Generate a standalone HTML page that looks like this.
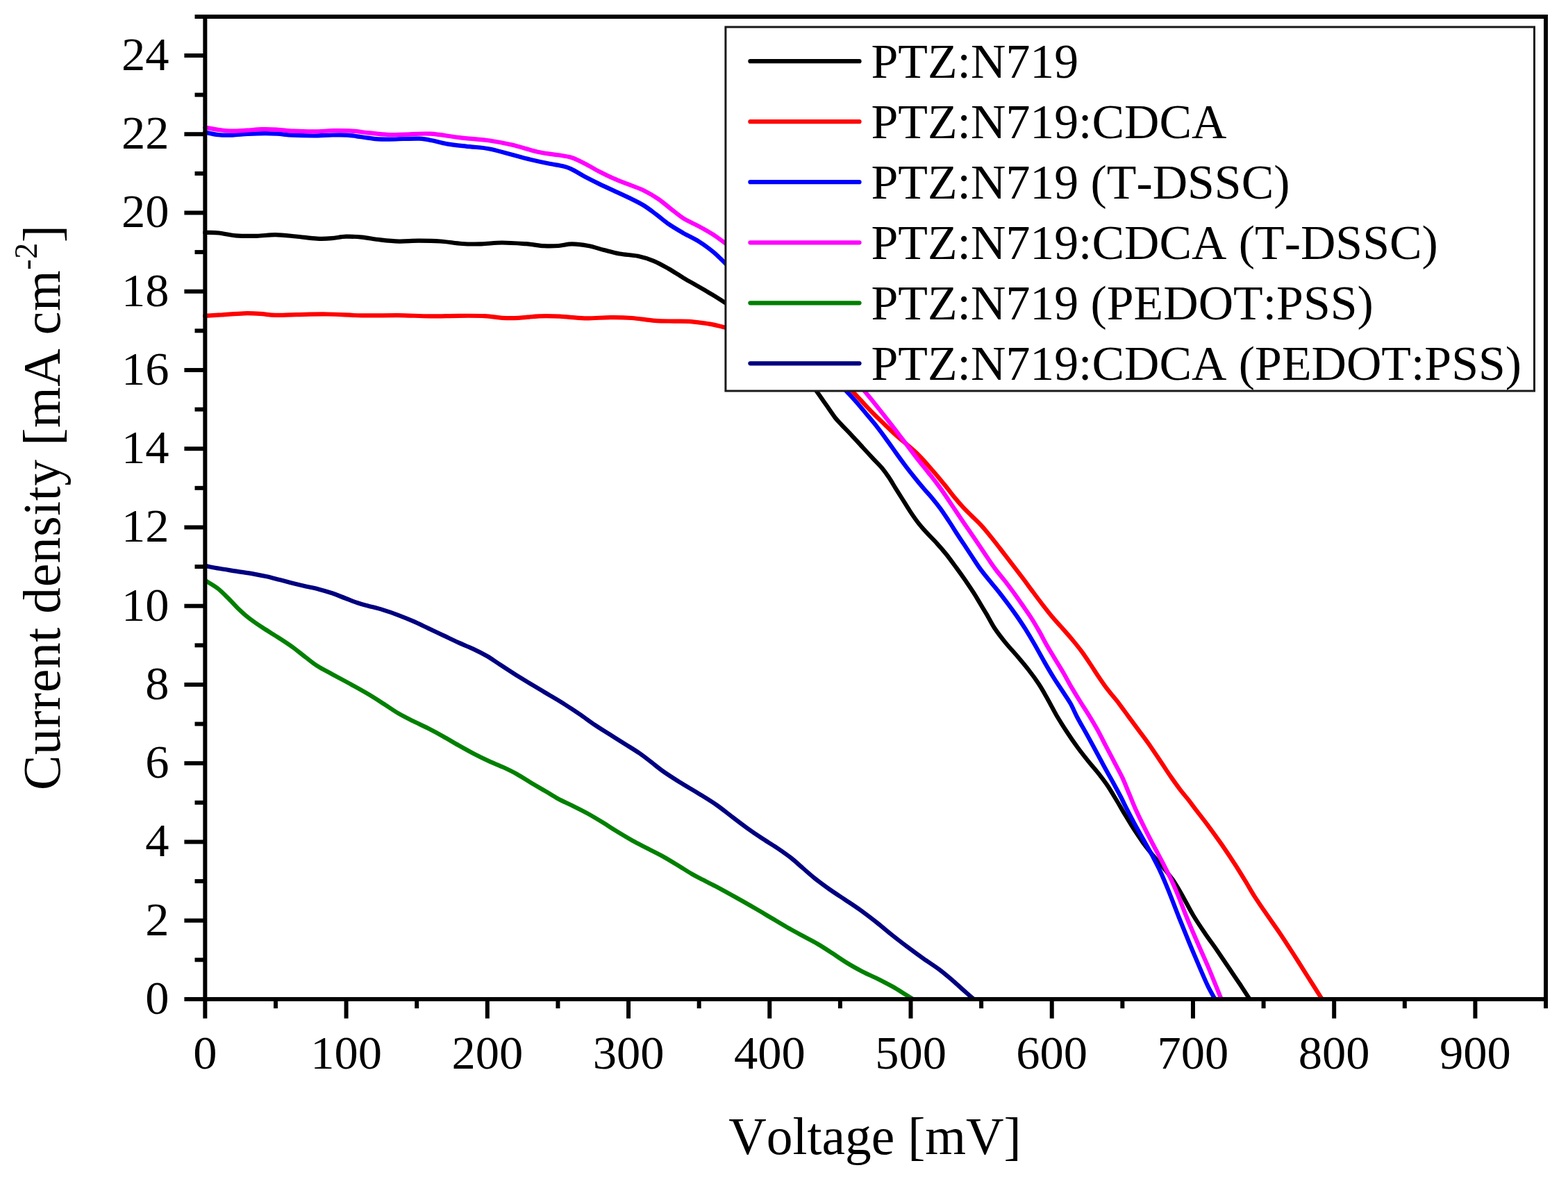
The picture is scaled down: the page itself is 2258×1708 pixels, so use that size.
<!DOCTYPE html>
<html><head><meta charset="utf-8"><style>
html,body{margin:0;padding:0;background:#fff;}
svg{display:block;}
text{font-family:"Liberation Serif","Times New Roman",serif;fill:#000;font-kerning:none;font-feature-settings:"kern" 0;}
.t{font-size:68.5px;}
.l{font-size:75.5px;}
.g{font-size:69.8px;}
</style></head><body>
<svg width="2258" height="1708" viewBox="0 0 2258 1708">
<rect width="2258" height="1708" fill="#fff"/>
<path d="M295.2,335.0 C295.9,335.0 296.3,334.8 299.7,334.9 C303.0,335.0 308.8,334.8 315.4,335.5 C322.0,336.3 330.4,338.6 339.4,339.3 C348.5,340.0 360.1,340.0 369.7,339.8 C379.2,339.6 387.3,338.1 396.8,338.2 C406.2,338.3 416.4,339.6 426.3,340.5 C436.3,341.4 448.0,343.2 456.6,343.6 C465.1,344.1 470.8,343.7 477.7,343.2 C484.6,342.7 490.7,340.9 498.0,340.7 C505.3,340.4 513.0,340.9 521.3,341.7 C529.6,342.5 538.8,344.5 547.7,345.4 C556.6,346.4 565.6,347.4 574.8,347.6 C583.9,347.8 592.8,346.7 602.7,346.7 C612.6,346.7 623.8,346.8 634.3,347.5 C644.8,348.2 655.8,350.4 665.6,351.0 C675.4,351.7 683.6,351.6 693.2,351.4 C702.8,351.1 712.3,349.5 723.0,349.5 C733.7,349.5 747.3,350.5 757.4,351.2 C767.5,352.0 775.7,353.7 783.5,354.2 C791.3,354.7 797.6,354.5 804.3,354.0 C811.0,353.5 816.6,351.4 823.7,351.4 C830.9,351.5 839.6,352.6 847.2,354.0 C854.9,355.4 862.1,358.1 869.6,360.0 C877.1,361.9 884.2,364.0 892.4,365.5 C900.5,367.0 910.4,367.1 918.5,368.8 C926.7,370.6 933.9,372.7 941.3,375.8 C948.7,378.8 955.6,382.9 962.8,387.0 C970.0,391.1 977.1,396.0 984.3,400.3 C991.5,404.6 998.8,408.5 1005.8,412.6 C1012.8,416.6 1020.2,421.0 1026.3,424.7 C1032.3,428.4 1037.6,431.8 1042.1,434.6 C1046.6,437.5 1051.4,440.6 1053.2,441.8 M1170.5,555.6 C1171.8,557.5 1175.2,562.2 1178.5,567.0 C1181.8,571.7 1186.4,578.3 1190.4,584.1 C1194.4,589.8 1198.9,596.7 1202.6,601.5 C1206.4,606.3 1209.0,608.7 1212.9,612.9 C1216.8,617.0 1221.0,621.1 1225.9,626.3 C1230.8,631.5 1236.9,638.4 1242.1,644.0 C1247.3,649.7 1252.6,655.4 1257.2,660.3 C1261.9,665.3 1266.1,669.3 1269.9,673.7 C1273.6,678.2 1276.4,682.2 1279.7,687.1 C1283.0,691.9 1286.4,697.9 1289.5,702.9 C1292.7,707.9 1295.0,711.4 1298.4,717.0 C1301.9,722.5 1306.3,729.9 1310.4,736.1 C1314.5,742.3 1318.9,748.7 1323.0,753.9 C1327.1,759.2 1330.7,763.0 1335.0,767.7 C1339.3,772.4 1344.4,777.2 1349.0,782.3 C1353.7,787.4 1358.2,792.6 1362.9,798.5 C1367.6,804.4 1372.6,811.4 1377.2,817.7 C1381.8,824.0 1386.3,830.3 1390.5,836.3 C1394.6,842.3 1398.6,848.1 1402.1,853.7 C1405.6,859.2 1408.5,864.3 1411.6,869.4 C1414.7,874.6 1417.4,878.8 1420.8,884.6 C1424.2,890.4 1427.6,897.6 1432.0,904.3 C1436.4,911.0 1441.6,917.7 1447.2,924.6 C1452.8,931.5 1459.6,938.7 1465.4,945.5 C1471.2,952.3 1476.8,958.9 1481.8,965.5 C1486.9,972.0 1491.4,978.2 1495.7,984.8 C1500.1,991.4 1503.5,997.6 1507.8,1005.2 C1512.2,1012.9 1516.9,1022.4 1521.6,1030.5 C1526.4,1038.6 1531.2,1046.1 1536.2,1053.8 C1541.2,1061.5 1546.7,1069.4 1551.9,1076.5 C1557.1,1083.6 1562.3,1090.1 1567.3,1096.4 C1572.3,1102.7 1577.4,1108.1 1582.1,1114.2 C1586.8,1120.2 1591.3,1126.0 1595.8,1132.8 C1600.2,1139.5 1605.0,1147.8 1609.1,1154.5 C1613.2,1161.3 1616.3,1167.0 1620.2,1173.3 C1624.0,1179.7 1627.9,1186.3 1632.1,1192.9 C1636.4,1199.5 1641.1,1206.6 1645.7,1213.1 C1650.3,1219.5 1655.1,1225.4 1660.0,1231.5 C1664.9,1237.6 1670.4,1243.5 1675.2,1249.4 C1680.0,1255.3 1684.4,1260.7 1688.8,1266.9 C1693.1,1273.2 1696.2,1278.5 1701.1,1287.0 C1706.0,1295.5 1712.5,1308.5 1718.2,1318.0 C1723.9,1327.5 1729.6,1335.8 1735.3,1344.2 C1741.0,1352.6 1746.8,1360.2 1752.5,1368.5 C1758.2,1376.8 1764.1,1385.6 1769.6,1393.8 C1775.1,1401.9 1780.6,1409.9 1785.5,1417.3 C1790.4,1424.7 1796.8,1434.6 1799.1,1438.1 " fill="none" stroke="#000000" stroke-width="6.2" stroke-linejoin="round" stroke-linecap="round"/>
<path d="M295.1,454.8 C299.0,454.6 309.4,454.0 318.8,453.5 C328.1,452.9 341.7,451.5 351.1,451.3 C360.4,451.0 367.2,451.4 374.8,451.9 C382.3,452.3 387.7,453.7 396.3,453.9 C404.9,454.1 413.8,453.3 426.5,453.1 C439.1,452.9 456.5,452.2 472.2,452.5 C487.9,452.7 503.9,454.1 520.7,454.4 C537.5,454.7 556.5,454.0 573.0,454.1 C589.4,454.3 604.9,455.3 619.4,455.4 C634.0,455.5 647.3,454.8 660.4,454.8 C673.5,454.7 687.5,454.6 698.0,455.1 C708.5,455.6 715.1,457.3 723.3,457.8 C731.5,458.2 738.1,458.2 746.9,457.8 C755.8,457.4 766.7,455.7 776.5,455.4 C786.4,455.0 795.4,455.2 806.3,455.7 C817.2,456.2 829.6,458.2 841.8,458.4 C854.0,458.7 868.1,457.1 879.5,457.1 C890.8,457.0 899.3,457.2 910.0,458.0 C920.6,458.8 933.3,461.1 943.4,461.8 C953.5,462.6 962.1,462.4 970.7,462.6 C979.3,462.8 986.8,462.5 995.2,463.1 C1003.5,463.8 1013.0,465.1 1020.7,466.4 C1028.4,467.7 1035.9,469.7 1041.6,471.0 C1047.3,472.4 1052.8,473.8 1055.0,474.4 M1221.2,556.6 C1222.8,558.3 1226.8,562.6 1230.7,566.8 C1234.5,570.9 1239.6,576.4 1244.2,581.3 C1248.8,586.2 1253.2,591.0 1258.2,596.0 C1263.1,601.0 1268.6,606.1 1273.9,611.2 C1279.2,616.3 1284.8,621.8 1290.2,626.7 C1295.6,631.6 1301.1,635.9 1306.5,640.6 C1311.9,645.3 1317.3,649.8 1322.5,655.0 C1327.8,660.2 1332.9,666.1 1337.9,671.7 C1342.9,677.4 1348.2,683.5 1352.7,688.9 C1357.2,694.3 1361.4,699.7 1365.1,704.2 C1368.7,708.7 1370.8,711.7 1374.3,716.0 C1377.9,720.3 1382.1,725.3 1386.3,729.8 C1390.5,734.3 1394.9,738.6 1399.3,743.0 C1403.7,747.4 1408.0,751.1 1412.6,756.1 C1417.2,761.1 1422.0,767.0 1426.9,773.1 C1431.8,779.1 1437.3,786.2 1442.1,792.5 C1447.0,798.8 1451.4,804.6 1456.2,810.9 C1461.0,817.2 1466.0,823.6 1471.0,830.2 C1476.0,836.8 1481.1,843.8 1486.0,850.4 C1490.9,857.0 1495.7,863.5 1500.6,869.8 C1505.5,876.1 1510.2,882.3 1515.2,888.2 C1520.2,894.2 1525.7,900.0 1530.6,905.6 C1535.6,911.2 1540.4,916.6 1544.9,922.1 C1549.4,927.6 1553.7,932.8 1557.8,938.4 C1561.9,944.0 1565.5,949.4 1569.6,955.6 C1573.7,961.7 1578.4,969.2 1582.5,975.3 C1586.7,981.4 1590.2,986.6 1594.4,992.2 C1598.6,997.8 1602.8,1002.2 1607.9,1008.7 C1612.9,1015.1 1619.0,1023.6 1624.5,1031.1 C1630.0,1038.6 1635.6,1046.0 1641.0,1053.4 C1646.5,1060.8 1652.0,1068.1 1657.3,1075.7 C1662.6,1083.3 1668.1,1091.8 1673.0,1099.1 C1677.9,1106.4 1682.1,1113.0 1686.6,1119.4 C1691.1,1125.8 1695.5,1132.0 1699.8,1137.6 C1704.1,1143.2 1708.5,1148.2 1712.2,1152.9 C1715.8,1157.6 1717.4,1159.9 1721.9,1165.8 C1726.4,1171.7 1733.0,1179.9 1739.2,1188.3 C1745.4,1196.6 1752.6,1206.6 1759.1,1215.9 C1765.6,1225.3 1772.4,1235.5 1778.1,1244.3 C1783.8,1253.1 1788.6,1261.0 1793.3,1268.7 C1798.0,1276.4 1801.5,1282.9 1806.4,1290.6 C1811.4,1298.3 1816.7,1306.1 1822.9,1315.1 C1829.0,1324.0 1836.5,1334.3 1843.2,1344.2 C1849.9,1354.1 1856.4,1364.3 1862.9,1374.4 C1869.4,1384.5 1875.4,1394.2 1882.2,1404.8 C1888.9,1415.4 1899.8,1432.5 1903.3,1438.1 " fill="none" stroke="#ff0000" stroke-width="6.2" stroke-linejoin="round" stroke-linecap="round"/>
<path d="M295.4,190.6 C298.6,191.2 308.1,193.5 314.7,194.2 C321.2,194.9 327.8,194.8 334.8,194.6 C341.8,194.4 348.9,193.3 356.8,192.9 C364.7,192.5 374.8,192.1 382.0,192.1 C389.1,192.1 393.2,192.3 399.7,192.7 C406.3,193.1 412.6,194.2 421.3,194.7 C429.9,195.2 442.0,195.5 451.6,195.5 C461.1,195.5 470.6,194.6 478.7,194.5 C486.8,194.3 493.2,194.2 500.2,194.6 C507.2,195.1 513.8,196.4 520.6,197.3 C527.4,198.2 534.2,199.5 540.9,200.1 C547.7,200.6 554.3,200.6 561.0,200.6 C567.7,200.6 574.1,200.2 581.3,200.0 C588.5,199.9 597.3,199.4 604.1,199.7 C610.8,200.1 615.3,201.0 622.0,202.3 C628.7,203.6 635.2,205.9 644.3,207.4 C653.3,208.9 666.0,210.0 676.3,211.2 C686.7,212.4 693.4,212.0 706.4,214.8 C719.4,217.5 740.3,224.0 754.5,227.5 C768.6,231.0 782.7,234.0 791.4,235.8 C800.1,237.6 801.5,237.2 806.7,238.5 C811.8,239.7 816.7,240.7 822.5,243.3 C828.3,245.9 834.7,250.4 841.4,254.0 C848.1,257.5 855.3,261.1 862.4,264.6 C869.5,268.0 876.7,271.3 883.9,274.6 C891.1,277.9 898.3,281.1 905.4,284.6 C912.5,288.1 919.7,291.4 926.4,295.5 C933.1,299.5 939.1,304.4 945.3,309.0 C951.5,313.6 957.1,318.7 963.6,323.1 C970.1,327.6 977.3,331.7 984.3,335.8 C991.3,339.8 998.8,343.0 1005.8,347.3 C1012.8,351.7 1020.3,357.2 1026.3,362.1 C1032.3,367.0 1037.6,372.5 1041.8,376.6 C1046.0,380.6 1050.0,384.8 1051.6,386.4 M1212.6,556.6 C1214.2,558.3 1218.2,562.6 1222.1,566.8 C1225.9,570.9 1231.1,576.5 1235.6,581.7 C1240.1,586.9 1244.6,592.5 1249.2,598.0 C1253.8,603.5 1258.5,608.9 1263.1,614.8 C1267.7,620.7 1272.5,627.3 1277.0,633.6 C1281.6,639.8 1285.9,646.1 1290.4,652.4 C1294.9,658.7 1299.6,665.2 1304.1,671.1 C1308.6,677.1 1313.1,682.7 1317.5,688.2 C1321.9,693.7 1326.6,699.3 1330.6,704.0 C1334.5,708.7 1337.6,711.6 1341.4,716.2 C1345.3,720.9 1349.6,726.2 1353.8,731.9 C1358.0,737.6 1362.4,744.4 1366.4,750.4 C1370.4,756.4 1373.9,762.3 1377.6,768.0 C1381.3,773.7 1384.9,778.9 1388.5,784.4 C1392.1,789.9 1395.6,795.3 1399.3,800.9 C1403.0,806.5 1406.6,812.3 1410.6,817.9 C1414.6,823.5 1418.9,828.8 1423.4,834.3 C1427.9,839.9 1432.7,845.3 1437.4,851.2 C1442.0,857.0 1446.9,863.5 1451.3,869.4 C1455.8,875.4 1459.7,880.8 1464.0,886.9 C1468.2,893.0 1472.5,899.3 1476.8,906.2 C1481.1,913.1 1485.5,920.5 1490.0,928.3 C1494.5,936.1 1499.3,945.1 1503.9,953.1 C1508.5,961.2 1513.3,969.4 1517.8,976.6 C1522.3,983.8 1526.7,990.1 1530.7,996.3 C1534.7,1002.4 1538.4,1007.5 1541.8,1013.5 C1545.1,1019.5 1547.4,1025.5 1550.9,1032.2 C1554.4,1039.0 1558.7,1046.3 1562.9,1053.8 C1567.1,1061.3 1571.5,1069.4 1575.9,1077.5 C1580.3,1085.6 1584.7,1094.0 1589.2,1102.2 C1593.6,1110.4 1598.6,1119.1 1602.7,1126.6 C1606.8,1134.1 1610.6,1141.0 1613.7,1147.0 C1616.8,1152.9 1618.1,1156.2 1621.3,1162.4 C1624.5,1168.6 1628.7,1176.8 1632.8,1184.4 C1636.9,1192.0 1641.5,1200.0 1645.9,1208.0 C1650.3,1215.9 1655.0,1224.2 1659.3,1232.1 C1663.5,1240.1 1667.3,1247.1 1671.2,1255.6 C1675.1,1264.0 1678.3,1271.8 1682.7,1282.7 C1687.1,1293.6 1692.8,1308.5 1697.7,1321.0 C1702.7,1333.4 1707.6,1345.6 1712.5,1357.5 C1717.4,1369.3 1722.6,1381.6 1727.1,1392.1 C1731.6,1402.7 1736.0,1413.0 1739.7,1420.7 C1743.4,1428.3 1747.6,1435.2 1749.2,1438.1 " fill="none" stroke="#0000ff" stroke-width="6.2" stroke-linejoin="round" stroke-linecap="round"/>
<path d="M295.4,183.8 C298.3,184.3 306.3,185.7 312.7,186.6 C319.0,187.4 326.3,188.5 333.4,188.7 C340.5,188.8 347.9,188.1 355.1,187.7 C362.3,187.3 369.6,186.4 376.8,186.2 C384.0,186.0 390.9,186.2 398.5,186.6 C406.1,187.0 413.3,188.2 422.1,188.7 C431.0,189.1 442.1,189.5 451.7,189.4 C461.4,189.4 470.8,188.4 479.9,188.2 C489.0,188.1 497.7,188.1 506.3,188.6 C514.9,189.1 522.7,190.5 531.5,191.4 C540.3,192.3 550.3,193.6 559.0,194.0 C567.7,194.4 573.6,193.9 583.7,193.7 C593.7,193.4 606.4,191.9 619.5,192.7 C632.5,193.4 647.6,196.5 661.9,198.1 C676.1,199.8 692.6,200.8 705.1,202.5 C717.6,204.3 725.0,205.8 737.0,208.6 C749.0,211.4 765.8,216.9 777.0,219.3 C788.2,221.7 796.3,222.0 803.9,223.3 C811.5,224.5 816.2,224.9 822.5,226.8 C828.7,228.8 834.7,231.8 841.4,235.2 C848.1,238.5 855.3,243.1 862.4,246.8 C869.5,250.5 876.7,254.0 883.9,257.1 C891.1,260.3 898.2,262.9 905.4,265.7 C912.6,268.6 919.9,270.8 926.9,274.2 C934.0,277.7 941.2,281.9 947.7,286.4 C954.2,290.8 959.8,295.9 966.0,300.7 C972.1,305.4 978.2,310.8 984.8,314.9 C991.5,319.1 998.9,321.8 1005.8,325.6 C1012.7,329.3 1020.2,333.6 1026.3,337.4 C1032.3,341.3 1037.6,345.3 1042.0,348.4 C1046.4,351.5 1051.0,355.0 1052.8,356.3 M1239.1,556.2 C1240.5,557.8 1244.3,562.3 1247.4,566.1 C1250.4,569.8 1254.0,574.1 1257.6,578.6 C1261.2,583.1 1264.9,587.8 1268.9,592.9 C1272.9,598.0 1277.2,603.5 1281.7,609.2 C1286.2,614.9 1291.0,621.2 1295.6,627.3 C1300.2,633.3 1305.0,639.6 1309.5,645.5 C1314.0,651.5 1318.3,657.2 1322.7,662.9 C1327.1,668.5 1331.5,673.9 1336.0,679.5 C1340.5,685.2 1345.2,690.9 1349.6,696.9 C1354.1,702.8 1358.3,708.9 1362.6,715.2 C1366.9,721.5 1371.2,728.2 1375.5,734.5 C1379.8,740.9 1384.1,747.5 1388.1,753.3 C1392.1,759.1 1395.6,764.0 1399.3,769.4 C1403.1,774.9 1406.7,780.2 1410.6,786.1 C1414.5,791.9 1418.8,798.5 1422.8,804.4 C1426.9,810.3 1430.6,815.9 1434.9,821.5 C1439.2,827.1 1444.3,832.9 1448.5,838.3 C1452.7,843.7 1456.3,848.7 1460.2,854.1 C1464.1,859.4 1467.7,864.7 1471.7,870.4 C1475.7,876.2 1480.1,882.3 1484.2,888.6 C1488.3,894.9 1492.3,901.7 1496.1,908.4 C1500.0,915.1 1503.5,922.4 1507.2,928.9 C1510.9,935.4 1514.5,941.1 1518.4,947.6 C1522.3,954.1 1526.7,960.9 1530.8,968.0 C1534.9,975.0 1539.0,982.9 1543.1,989.9 C1547.2,996.9 1551.3,1003.6 1555.4,1010.1 C1559.4,1016.6 1563.4,1022.4 1567.5,1029.1 C1571.6,1035.8 1575.9,1042.9 1579.9,1050.1 C1583.9,1057.3 1587.5,1064.6 1591.5,1072.4 C1595.6,1080.1 1600.0,1088.6 1604.2,1096.6 C1608.3,1104.6 1612.8,1112.6 1616.4,1120.2 C1619.9,1127.8 1622.5,1134.7 1625.7,1142.3 C1628.9,1149.8 1631.7,1157.4 1635.4,1165.6 C1639.1,1173.8 1643.6,1183.0 1647.9,1191.7 C1652.2,1200.5 1657.0,1209.7 1661.4,1218.0 C1665.8,1226.4 1670.2,1234.4 1674.2,1242.1 C1678.1,1249.7 1681.6,1256.3 1685.1,1263.8 C1688.7,1271.2 1691.4,1277.2 1695.4,1286.9 C1699.5,1296.5 1704.3,1309.9 1709.2,1321.7 C1714.0,1333.5 1719.3,1345.7 1724.4,1357.5 C1729.5,1369.2 1735.2,1381.6 1739.7,1392.1 C1744.2,1402.7 1748.3,1413.0 1751.4,1420.7 C1754.5,1428.3 1757.2,1435.2 1758.4,1438.1 " fill="none" stroke="#ff00ff" stroke-width="6.2" stroke-linejoin="round" stroke-linecap="round"/>
<path d="M296.3,836.4 C299.1,838.2 307.9,843.0 313.2,847.1 C318.4,851.1 323.0,855.9 327.9,860.7 C332.8,865.5 337.5,871.1 342.5,875.9 C347.5,880.7 351.9,884.9 357.9,889.6 C363.9,894.3 371.2,899.3 378.6,904.2 C385.9,909.0 394.7,914.1 401.9,918.8 C409.1,923.4 415.5,927.6 421.8,932.2 C428.1,936.9 434.1,941.9 439.9,946.4 C445.8,950.9 450.6,955.1 457.1,959.2 C463.5,963.3 471.0,966.9 478.8,971.2 C486.5,975.4 495.3,980.0 503.7,984.6 C512.1,989.2 521.1,994.1 529.1,998.9 C537.1,1003.6 544.3,1008.3 551.7,1013.1 C559.1,1017.8 566.2,1022.9 573.4,1027.2 C580.6,1031.5 587.9,1035.0 595.1,1038.6 C602.3,1042.2 609.6,1045.3 616.8,1049.0 C624.0,1052.7 631.3,1056.6 638.5,1060.7 C645.7,1064.8 653.0,1069.2 660.2,1073.3 C667.4,1077.4 674.7,1081.5 681.9,1085.3 C689.1,1089.1 696.5,1092.7 703.6,1095.9 C710.7,1099.2 717.6,1101.7 724.3,1104.8 C731.0,1107.9 736.5,1110.5 743.8,1114.5 C751.0,1118.6 760.7,1124.9 767.8,1129.1 C774.9,1133.3 780.3,1136.4 786.3,1139.9 C792.2,1143.4 797.2,1146.8 803.5,1150.2 C809.8,1153.6 817.1,1156.8 824.2,1160.3 C831.3,1163.8 838.7,1167.4 845.9,1171.4 C853.1,1175.4 860.4,1179.8 867.6,1184.2 C874.8,1188.6 882.1,1193.5 889.3,1197.9 C896.5,1202.3 903.8,1206.7 911.0,1210.7 C918.2,1214.7 925.5,1218.2 932.7,1222.0 C939.9,1225.7 947.2,1229.2 954.4,1233.2 C961.6,1237.2 969.2,1241.9 976.1,1246.1 C983.0,1250.3 990.2,1255.1 996.1,1258.5 C1002.0,1262.0 1005.6,1263.7 1011.7,1266.8 C1017.8,1270.0 1024.7,1273.3 1032.7,1277.5 C1040.6,1281.8 1050.3,1287.1 1059.5,1292.3 C1068.8,1297.5 1079.6,1303.6 1088.3,1308.7 C1097.0,1313.7 1104.2,1318.1 1111.7,1322.5 C1119.2,1327.0 1126.2,1331.3 1133.4,1335.4 C1140.6,1339.5 1147.9,1343.4 1155.1,1347.3 C1162.3,1351.3 1169.6,1354.7 1176.8,1359.0 C1184.0,1363.2 1191.3,1368.0 1198.5,1372.7 C1205.7,1377.4 1213.0,1382.6 1220.2,1387.0 C1227.4,1391.5 1234.7,1395.4 1241.9,1399.2 C1249.1,1402.9 1256.4,1405.9 1263.6,1409.5 C1270.8,1413.1 1278.5,1417.0 1285.3,1420.8 C1292.1,1424.6 1299.6,1429.6 1304.2,1432.4 C1308.9,1435.3 1311.9,1437.2 1313.4,1438.1 " fill="none" stroke="#008000" stroke-width="6.2" stroke-linejoin="round" stroke-linecap="round"/>
<path d="M296.3,815.1 C299.6,815.7 308.9,817.6 316.2,818.8 C323.6,820.1 332.2,821.3 340.2,822.6 C348.2,823.9 356.8,825.1 364.2,826.4 C371.5,827.7 377.6,828.9 384.1,830.3 C390.6,831.8 396.7,833.5 403.0,835.1 C409.3,836.7 415.5,838.5 421.8,840.1 C428.1,841.6 434.3,843.0 440.6,844.5 C446.9,845.9 453.1,847.0 459.4,848.7 C465.7,850.3 472.0,852.2 478.3,854.3 C484.6,856.5 491.0,859.2 497.1,861.5 C503.2,863.8 509.3,866.4 515.1,868.3 C520.8,870.2 525.3,871.2 531.4,872.9 C537.5,874.5 544.7,876.2 551.7,878.4 C558.7,880.5 566.2,883.1 573.4,885.8 C580.6,888.5 587.9,891.5 595.1,894.7 C602.3,897.9 609.6,901.5 616.8,904.9 C624.0,908.3 631.3,911.7 638.5,915.1 C645.7,918.5 653.0,922.1 660.2,925.4 C667.4,928.6 674.7,931.4 681.5,934.6 C688.3,937.8 694.7,941.0 701.2,944.8 C707.7,948.6 713.5,952.9 720.5,957.4 C727.4,961.9 734.8,966.8 742.8,971.9 C750.9,976.9 760.6,982.8 768.8,987.7 C776.9,992.6 784.3,996.9 791.7,1001.3 C799.1,1005.8 806.2,1009.9 813.4,1014.5 C820.6,1019.1 827.9,1023.9 835.1,1028.8 C842.3,1033.7 849.6,1039.3 856.8,1044.1 C864.0,1049.0 871.3,1053.3 878.5,1057.9 C885.7,1062.5 893.1,1067.1 900.2,1071.6 C907.3,1076.1 914.6,1080.4 920.9,1084.8 C927.3,1089.2 932.4,1093.4 938.2,1097.8 C943.9,1102.2 948.7,1106.4 955.4,1111.1 C962.1,1115.8 969.6,1120.6 978.3,1126.1 C987.0,1131.5 998.9,1138.3 1007.8,1143.8 C1016.7,1149.3 1024.1,1153.8 1031.7,1159.1 C1039.3,1164.4 1046.2,1170.1 1053.4,1175.6 C1060.6,1181.1 1067.9,1186.7 1075.1,1191.9 C1082.3,1197.1 1089.6,1202.1 1096.8,1206.9 C1104.0,1211.7 1111.4,1215.9 1118.5,1220.7 C1125.6,1225.5 1132.9,1230.5 1139.2,1235.5 C1145.6,1240.5 1150.7,1245.6 1156.5,1250.5 C1162.2,1255.4 1167.4,1260.2 1173.7,1265.2 C1180.0,1270.2 1187.3,1275.6 1194.4,1280.6 C1201.5,1285.6 1208.7,1290.2 1216.1,1295.1 C1223.5,1300.1 1230.7,1304.7 1238.5,1310.3 C1246.3,1315.9 1255.1,1322.7 1262.9,1328.8 C1270.7,1335.0 1277.9,1341.3 1285.3,1347.1 C1292.7,1353.0 1299.8,1358.4 1307.2,1364.0 C1314.7,1369.6 1322.5,1375.3 1330.1,1380.7 C1337.8,1386.1 1345.9,1391.2 1353.0,1396.5 C1360.1,1401.8 1366.6,1407.6 1372.5,1412.6 C1378.4,1417.7 1383.4,1422.4 1388.2,1426.6 C1393.0,1430.9 1399.0,1436.2 1401.2,1438.1 " fill="none" stroke="#000080" stroke-width="6.2" stroke-linejoin="round" stroke-linecap="round"/>
<rect x="295.35" y="24.00" width="1930.69" height="1414.94" fill="none" stroke="#000" stroke-width="6.0"/>
<line x1="265.4" y1="1438.94" x2="295.4" y2="1438.94" stroke="#000" stroke-width="6.0"/>
<text x="243.6" y="1459.8" text-anchor="end" class="t">0</text>
<line x1="280.5" y1="1382.32" x2="295.4" y2="1382.32" stroke="#000" stroke-width="6.0"/>
<line x1="265.4" y1="1325.69" x2="295.4" y2="1325.69" stroke="#000" stroke-width="6.0"/>
<text x="243.6" y="1346.6" text-anchor="end" class="t">2</text>
<line x1="280.5" y1="1269.07" x2="295.4" y2="1269.07" stroke="#000" stroke-width="6.0"/>
<line x1="265.4" y1="1212.44" x2="295.4" y2="1212.44" stroke="#000" stroke-width="6.0"/>
<text x="243.6" y="1233.3" text-anchor="end" class="t">4</text>
<line x1="280.5" y1="1155.82" x2="295.4" y2="1155.82" stroke="#000" stroke-width="6.0"/>
<line x1="265.4" y1="1099.20" x2="295.4" y2="1099.20" stroke="#000" stroke-width="6.0"/>
<text x="243.6" y="1120.1" text-anchor="end" class="t">6</text>
<line x1="280.5" y1="1042.57" x2="295.4" y2="1042.57" stroke="#000" stroke-width="6.0"/>
<line x1="265.4" y1="985.95" x2="295.4" y2="985.95" stroke="#000" stroke-width="6.0"/>
<text x="243.6" y="1006.8" text-anchor="end" class="t">8</text>
<line x1="280.5" y1="929.32" x2="295.4" y2="929.32" stroke="#000" stroke-width="6.0"/>
<line x1="265.4" y1="872.70" x2="295.4" y2="872.70" stroke="#000" stroke-width="6.0"/>
<text x="243.6" y="893.6" text-anchor="end" class="t">10</text>
<line x1="280.5" y1="816.08" x2="295.4" y2="816.08" stroke="#000" stroke-width="6.0"/>
<line x1="265.4" y1="759.45" x2="295.4" y2="759.45" stroke="#000" stroke-width="6.0"/>
<text x="243.6" y="780.4" text-anchor="end" class="t">12</text>
<line x1="280.5" y1="702.83" x2="295.4" y2="702.83" stroke="#000" stroke-width="6.0"/>
<line x1="265.4" y1="646.20" x2="295.4" y2="646.20" stroke="#000" stroke-width="6.0"/>
<text x="243.6" y="667.1" text-anchor="end" class="t">14</text>
<line x1="280.5" y1="589.58" x2="295.4" y2="589.58" stroke="#000" stroke-width="6.0"/>
<line x1="265.4" y1="532.96" x2="295.4" y2="532.96" stroke="#000" stroke-width="6.0"/>
<text x="243.6" y="553.9" text-anchor="end" class="t">16</text>
<line x1="280.5" y1="476.33" x2="295.4" y2="476.33" stroke="#000" stroke-width="6.0"/>
<line x1="265.4" y1="419.71" x2="295.4" y2="419.71" stroke="#000" stroke-width="6.0"/>
<text x="243.6" y="440.6" text-anchor="end" class="t">18</text>
<line x1="280.5" y1="363.08" x2="295.4" y2="363.08" stroke="#000" stroke-width="6.0"/>
<line x1="265.4" y1="306.46" x2="295.4" y2="306.46" stroke="#000" stroke-width="6.0"/>
<text x="243.6" y="327.4" text-anchor="end" class="t">20</text>
<line x1="280.5" y1="249.84" x2="295.4" y2="249.84" stroke="#000" stroke-width="6.0"/>
<line x1="265.4" y1="193.21" x2="295.4" y2="193.21" stroke="#000" stroke-width="6.0"/>
<text x="243.6" y="214.1" text-anchor="end" class="t">22</text>
<line x1="280.5" y1="136.59" x2="295.4" y2="136.59" stroke="#000" stroke-width="6.0"/>
<line x1="265.4" y1="79.96" x2="295.4" y2="79.96" stroke="#000" stroke-width="6.0"/>
<text x="243.6" y="100.9" text-anchor="end" class="t">24</text>
<line x1="280.5" y1="24.00" x2="295.4" y2="24.00" stroke="#000" stroke-width="6.0"/>
<line x1="295.35" y1="1438.9" x2="295.35" y2="1466.7" stroke="#000" stroke-width="6.0"/>
<text x="295.35" y="1539.3" text-anchor="middle" class="t">0</text>
<line x1="396.97" y1="1438.9" x2="396.97" y2="1452.2" stroke="#000" stroke-width="6.0"/>
<line x1="498.58" y1="1438.9" x2="498.58" y2="1466.7" stroke="#000" stroke-width="6.0"/>
<text x="498.58" y="1539.3" text-anchor="middle" class="t">100</text>
<line x1="600.20" y1="1438.9" x2="600.20" y2="1452.2" stroke="#000" stroke-width="6.0"/>
<line x1="701.81" y1="1438.9" x2="701.81" y2="1466.7" stroke="#000" stroke-width="6.0"/>
<text x="701.81" y="1539.3" text-anchor="middle" class="t">200</text>
<line x1="803.43" y1="1438.9" x2="803.43" y2="1452.2" stroke="#000" stroke-width="6.0"/>
<line x1="905.04" y1="1438.9" x2="905.04" y2="1466.7" stroke="#000" stroke-width="6.0"/>
<text x="905.04" y="1539.3" text-anchor="middle" class="t">300</text>
<line x1="1006.66" y1="1438.9" x2="1006.66" y2="1452.2" stroke="#000" stroke-width="6.0"/>
<line x1="1108.27" y1="1438.9" x2="1108.27" y2="1466.7" stroke="#000" stroke-width="6.0"/>
<text x="1108.27" y="1539.3" text-anchor="middle" class="t">400</text>
<line x1="1209.89" y1="1438.9" x2="1209.89" y2="1452.2" stroke="#000" stroke-width="6.0"/>
<line x1="1311.50" y1="1438.9" x2="1311.50" y2="1466.7" stroke="#000" stroke-width="6.0"/>
<text x="1311.50" y="1539.3" text-anchor="middle" class="t">500</text>
<line x1="1413.12" y1="1438.9" x2="1413.12" y2="1452.2" stroke="#000" stroke-width="6.0"/>
<line x1="1514.73" y1="1438.9" x2="1514.73" y2="1466.7" stroke="#000" stroke-width="6.0"/>
<text x="1514.73" y="1539.3" text-anchor="middle" class="t">600</text>
<line x1="1616.35" y1="1438.9" x2="1616.35" y2="1452.2" stroke="#000" stroke-width="6.0"/>
<line x1="1717.96" y1="1438.9" x2="1717.96" y2="1466.7" stroke="#000" stroke-width="6.0"/>
<text x="1717.96" y="1539.3" text-anchor="middle" class="t">700</text>
<line x1="1819.58" y1="1438.9" x2="1819.58" y2="1452.2" stroke="#000" stroke-width="6.0"/>
<line x1="1921.19" y1="1438.9" x2="1921.19" y2="1466.7" stroke="#000" stroke-width="6.0"/>
<text x="1921.19" y="1539.3" text-anchor="middle" class="t">800</text>
<line x1="2022.81" y1="1438.9" x2="2022.81" y2="1452.2" stroke="#000" stroke-width="6.0"/>
<line x1="2124.42" y1="1438.9" x2="2124.42" y2="1466.7" stroke="#000" stroke-width="6.0"/>
<text x="2124.42" y="1539.3" text-anchor="middle" class="t">900</text>
<line x1="2226.04" y1="1438.9" x2="2226.04" y2="1452.2" stroke="#000" stroke-width="6.0"/>
<text x="1260" y="1662" text-anchor="middle" class="l">Voltage [mV]</text>
<text transform="translate(85.5,730.7) rotate(-90)" text-anchor="middle" class="l" style="letter-spacing:0.6px">Current density [mA cm<tspan dy="-33" font-size="46">-2</tspan><tspan dy="33">]</tspan></text>
<rect x="1044.9" y="38.9" width="1164.6" height="524.1" fill="#fff" stroke="#1a1a1a" stroke-width="3"/>
<line x1="1080.4" y1="88.2" x2="1237.5" y2="88.2" stroke="#000000" stroke-width="6.2" stroke-linecap="round"/>
<text x="1254.5" y="112.2" class="g">PTZ:N719</text>
<line x1="1080.4" y1="175.2" x2="1237.5" y2="175.2" stroke="#ff0000" stroke-width="6.2" stroke-linecap="round"/>
<text x="1254.5" y="199.2" class="g">PTZ:N719:CDCA</text>
<line x1="1080.4" y1="262.2" x2="1237.5" y2="262.2" stroke="#0000ff" stroke-width="6.2" stroke-linecap="round"/>
<text x="1254.5" y="286.2" class="g">PTZ:N719 (T-DSSC)</text>
<line x1="1080.4" y1="349.3" x2="1237.5" y2="349.3" stroke="#ff00ff" stroke-width="6.2" stroke-linecap="round"/>
<text x="1254.5" y="373.3" class="g">PTZ:N719:CDCA (T-DSSC)</text>
<line x1="1080.4" y1="436.3" x2="1237.5" y2="436.3" stroke="#008000" stroke-width="6.2" stroke-linecap="round"/>
<text x="1254.5" y="460.3" class="g">PTZ:N719 (PEDOT:PSS)</text>
<line x1="1080.4" y1="523.3" x2="1237.5" y2="523.3" stroke="#000080" stroke-width="6.2" stroke-linecap="round"/>
<text x="1254.5" y="547.3" class="g">PTZ:N719:CDCA (PEDOT:PSS)</text>
</svg></body></html>
